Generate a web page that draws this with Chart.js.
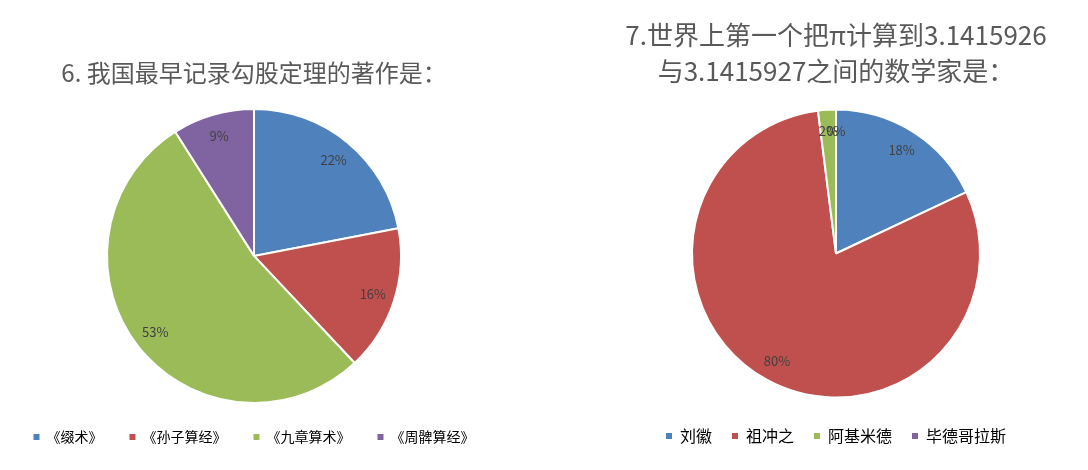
<!DOCTYPE html>
<html>
<head>
<meta charset="utf-8">
<script src="https://cdn.jsdelivr.net/npm/chart.js@4.4.1/dist/chart.umd.min.js"></script>
<style>
  html, body { margin: 0; padding: 0; background: #fff; }
  body { width: 1088px; height: 470px; position: relative; overflow: hidden; }
  .box { position: absolute; top: 0; height: 470px; }
  #left { left: 0; width: 508px; }
  #right { left: 584px; width: 504px; }
</style>
</head>
<body>
<div class="box" id="left"><canvas id="c1" width="508" height="470"></canvas></div>
<div class="box" id="right"><canvas id="c2" width="504" height="470"></canvas></div>
<script>
// question 6
const title6 = '6. 我国最早记录勾股定理的著作是：';
const books = ['《缀术》', '《孙子算经》', '《九章算术》', '《周髀算经》'];
const bookPct = [22, 16, 53, 9];

// question 7
const title7 = ['7.世界上第一个把π计算到3.1415926', '与3.1415927之间的数学家是：'];
const people = ['刘徽', '祖冲之', '阿基米德', '毕德哥拉斯'];
const peoplePct = [18, 80, 2, 0];

const colors = ['#4F81BD', '#C0504D', '#9BBB59', '#8064A2'];
const cjk = "'Noto Sans CJK SC', 'Noto Sans', sans-serif";

// percent labels inside the slices
const pctLabels = {
    id: 'pctLabels',
    afterDatasetsDraw(chart) {
        const ctx = chart.ctx;
        const meta = chart.getDatasetMeta(0);
        const data = chart.data.datasets[0].data;
        ctx.save();
        ctx.font = "13px " + cjk;
        ctx.fillStyle = '#404040';
        ctx.textAlign = 'center';
        ctx.textBaseline = 'middle';
        meta.data.forEach((arc, i) => {
            const mid = (arc.startAngle + arc.endAngle) / 2;
            const r = arc.outerRadius * 0.85;
            ctx.fillText(data[i] + '%', arc.x + Math.cos(mid) * r, arc.y + Math.sin(mid) * r);
        });
        ctx.restore();
    }
};

function makePie(id, labels, values, title, opts) {
    return new Chart(document.getElementById(id), {
        type: 'pie',
        data: {
            labels: labels,
            datasets: [{
                data: values,
                backgroundColor: colors,
                borderColor: '#ffffff',
                borderWidth: 2,
                radius: opts.radius
            }]
        },
        options: {
            responsive: false,
            animation: false,
            layout: { padding: { bottom: opts.bottom } },
            plugins: {
                tooltip: { enabled: false },
                title: {
                    display: true,
                    text: title,
                    color: '#595959',
                    font: { size: opts.titleSize, family: cjk, weight: 'normal', lineHeight: opts.titleLH },
                    padding: opts.titlePad
                },
                legend: {
                    position: 'bottom',
                    labels: {
                        color: '#595959',
                        boxWidth: 6,
                        boxHeight: 6,
                        padding: opts.legendPad,
                        font: { size: opts.legendSize, family: cjk },
                        generateLabels: function(chart) {
                            return chart.data.labels.map((label, i) => ({
                                text: label,
                                fillStyle: colors[i],
                                strokeStyle: colors[i],
                                lineWidth: 0,
                                index: i
                            }));
                        }
                    }
                }
            }
        },
        plugins: [pctLabels]
    });
}

makePie('c1', books, bookPct, title6, {
    radius: 147, bottom: 16, titleSize: 24, titleLH: 1.2,
    titlePad: { top: 58, bottom: 22 }, legendPad: 27, legendSize: 14
});
makePie('c2', people, peoplePct, title7, {
    radius: 144, bottom: 16, titleSize: 26, titleLH: 1.385,
    titlePad: { top: 17, bottom: 10 }, legendPad: 20, legendSize: 16
});
</script>
</body>
</html>
